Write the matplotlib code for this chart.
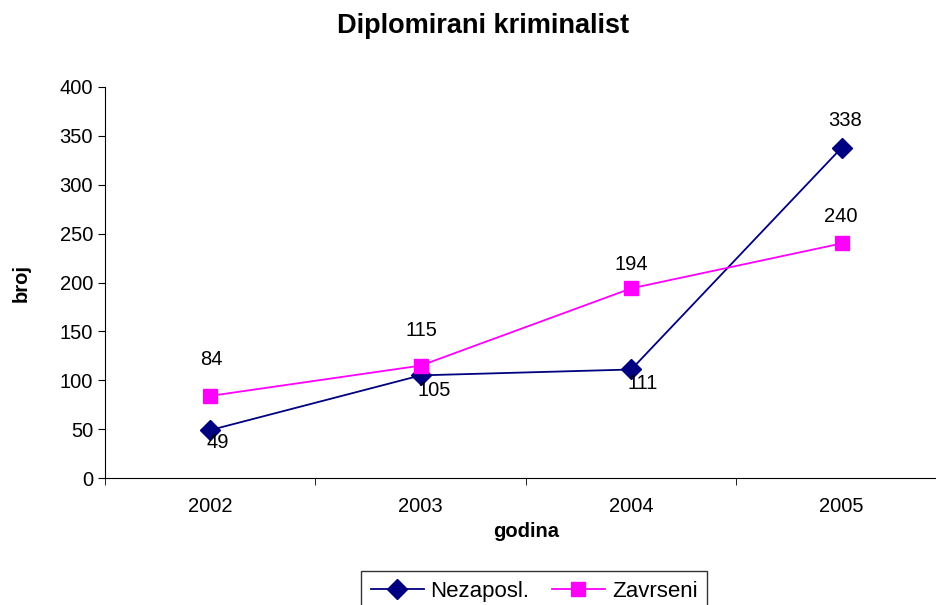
import matplotlib
matplotlib.use('Agg')
from matplotlib import pyplot as plt
import numpy as np

plt.rcParams['font.family'] = ['Liberation Sans', 'DejaVu Sans']

YEARS = ['2002', '2003', '2004', '2005']
NEZAPOSL = [49, 105, 111, 338]
ZAVRSENI = [84, 115, 194, 240]

# label offsets in pixels (dx, dy), as placed in the original
NEZ_OFFSETS = [(8, -12), (13, -15), (11, -14), (3, 27)]
ZAV_OFFSETS = [(1, 36), (1, 35), (0, 24), (-1, 27)]


def main():
    fig = plt.figure(figsize=(9.37, 6.05), dpi=100)
    # the plot area runs past the right edge of the picture, like the original
    ax = fig.add_axes([105 / 937, 127 / 605, 842 / 937, 391 / 605])
    x = np.arange(len(YEARS))

    ax.plot(x, NEZAPOSL, color='#000080', marker='D', markersize=10, lw=1.3,
            label='Nezaposl.')
    ax.plot(x, ZAVRSENI, color='#ff00ff', marker='s', markersize=9.5, lw=1.3,
            label='Zavrseni')

    for xi, v, off in zip(x, NEZAPOSL, NEZ_OFFSETS):
        ax.annotate(str(v), (xi, v), xytext=off, textcoords='offset pixels',
                    ha='center', va='center', fontsize=14.5)
    for xi, v, off in zip(x, ZAVRSENI, ZAV_OFFSETS):
        ax.annotate(str(v), (xi, v), xytext=off, textcoords='offset pixels',
                    ha='center', va='center', fontsize=14.5)

    ax.set_xlim(-0.5, 3.5)
    ax.set_ylim(0, 400)
    ax.set_yticks(np.arange(0, 401, 50))
    ax.set_xticks(x)
    ax.set_xticklabels(YEARS)
    ax.set_xticks(np.arange(-0.5, 4, 1), minor=True)
    ax.tick_params(axis='x', which='major', length=0, pad=14, labelsize=14.5)
    ax.tick_params(axis='x', which='minor', length=5, direction='out')
    ax.tick_params(axis='y', length=5, direction='out', labelsize=14.5)
    for s in ['top', 'right']:
        ax.spines[s].set_visible(False)

    ax.set_xlabel('godina', fontweight='bold', fontsize=14.5, labelpad=4)
    ax.set_ylabel('broj', fontweight='bold', fontsize=14.5, labelpad=21)
    fig.text(483 / 937, 1 - 26 / 605, 'Diplomirani kriminalist', ha='center',
             va='center', fontweight='bold', fontsize=19.5)

    fig.legend(loc='upper center', bbox_to_anchor=(534 / 937, 1 - 571 / 605),
               ncol=2, fontsize=16, frameon=True, fancybox=False,
               edgecolor='black', handlelength=2.4, columnspacing=1.0,
               borderpad=0.45, handletextpad=0.3, borderaxespad=0)

    fig.savefig('out.png', dpi=100)


if __name__ == '__main__':
    main()
